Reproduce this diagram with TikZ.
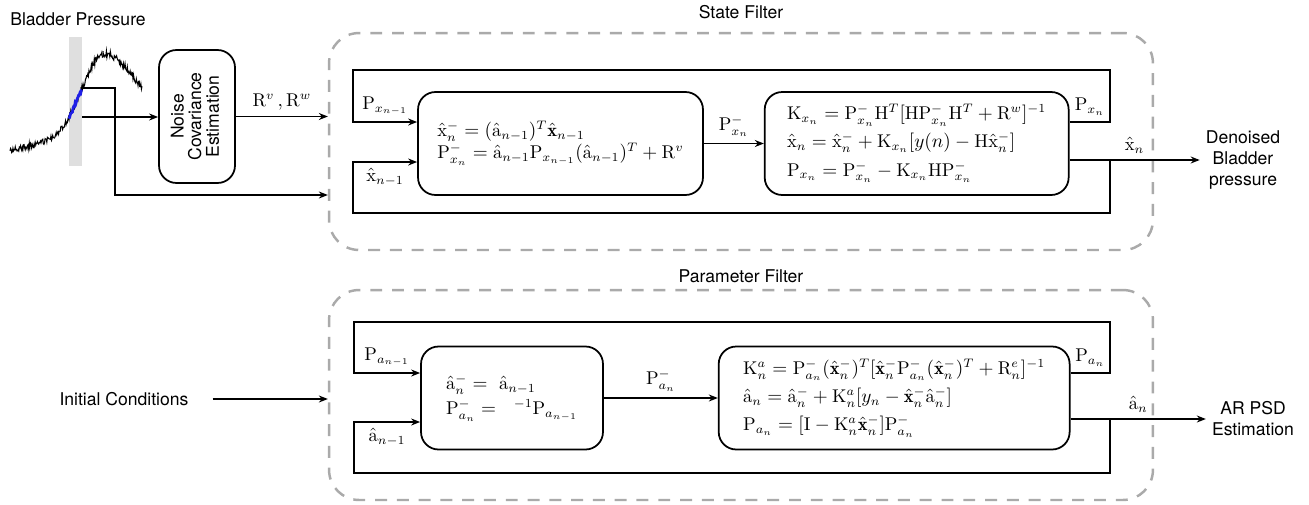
\documentclass[tikz,border=0pt]{standalone}
\usepackage{amsmath,amssymb}
\usepackage{fontspec}
\setsansfont{TeX Gyre Heros}
\usetikzlibrary{arrows.meta,positioning}
\definecolor{dashgray}{RGB}{170,170,170}
\definecolor{sigblue}{RGB}{30,30,230}
\newcommand{\xh}{\hat{\mathrm{x}}}
\newcommand{\ah}{\hat{\mathrm{a}}}
\newcommand{\xb}{\hat{\mathbf{x}}}
\newcommand{\rP}{\mathrm{P}}
\newcommand{\rK}{\mathrm{K}}
\newcommand{\rH}{\mathrm{H}}
\newcommand{\rR}{\mathrm{R}}
\begin{document}
\begin{tikzpicture}[x=0.02cm, y=-0.02cm,
  box/.style={draw, line width=1pt, rounded corners=3.5mm, align=left, inner sep=4pt,
              font=\fontsize{10.5}{16}\selectfont, minimum height=20.6mm},
  filter/.style={draw=dashgray, line width=1.4pt, dash pattern=on 6.8pt off 5.6pt,
                 rounded corners=6mm, minimum width=16.48cm},
  arr/.style={-{Stealth[length=1.8mm, width=1.4mm]}, line width=0.8pt},
  lbl/.style={font=\sffamily\fontsize{10}{12}\selectfont, align=center},
  eq/.style={font=\fontsize{10.5}{12}\selectfont}]
\useasboundingbox (0,0) rectangle (1309,504);

% filter frames
\node[filter, minimum height=4.34cm] (sf) at (741,141.5) {};
\node[filter, minimum height=4.2cm] (pf) at (741,395) {};
\node[lbl, above=1.4mm of sf] (sftitle) {State Filter};
\node[lbl, above=0mm of pf] (pftitle) {Parameter Filter};

% bladder pressure trace
\node[lbl] (bp) at (78,19) {Bladder Pressure};
\fill[gray!25] (69,37) rectangle (82,166);
\pgfmathsetseed{7}
\draw[line width=0.6pt] plot[domain=10:103, samples=160]
  (\x, {150 - 0.2*(\x-10) - 77*exp(-((\x-103)/30)^2) + 3*rand});
\draw[line width=0.6pt] plot[domain=103:142, samples=70]
  (\x, {150 - 0.2*(\x-10) - 77*exp(-((\x-103)/44.5)^2) + 3.5*rand});
\draw[sigblue, line width=1.6pt] plot[domain=69:82, samples=20]
  (\x, {150 - 0.2*(\x-10) - 77*exp(-((\x-103)/30)^2) + 2*rand});
\coordinate (tap) at (82,88);
\coordinate (win) at (82,117);
\coordinate (bend) at (115,195);
\fill (tap) circle (1.8);

\node[draw, line width=1pt, rounded corners=3.5mm, minimum width=1.52cm, minimum height=2.66cm,
      font=\sffamily\fontsize{10}{12}\selectfont] (noise) at (197,116.5)
  {\rotatebox{90}{\begin{tabular}{@{}c@{}}Noise\\[-2pt] Covariance\\[-2pt] Estimation\end{tabular}}};

% state filter blocks
\node[box, minimum width=5.7cm, font=\fontsize{10.5}{12.5}\selectfont] (pred) at (560.5,143.5)
  {$\xh^{-}_{n} = (\ah_{n-1})^{T}\xb_{n-1}$\\
   $\rP^{-}_{x_n} = \ah_{n-1}\rP_{x_{n-1}}(\ah_{n-1})^{T} + \rR^{v}$};
\node[box, minimum width=6.08cm, right=12mm of pred] (upd)
  {$\rK_{x_n} = \rP^{-}_{x_n}\rH^{T}[\rH\rP^{-}_{x_n}\rH^{T} + \rR^{w}]^{-1}$\\
   $\xh_n = \xh^{-}_n + \rK_{x_n}[y(n) - \rH\xh^{-}_n]$\\
   $\rP_{x_n} = \rP^{-}_{x_n} - \rK_{x_n}\rH\rP^{-}_{x_n}$};

% parameter filter blocks
\node[box, minimum width=3.64cm, font=\fontsize{10.5}{14.5}\selectfont] (apred) at (512,398)
  {$\ah^{-}_n =\ \ah_{n-1}$\\
   $\rP^{-}_{a_n} =\ \ {}^{-1}\rP_{a_{n-1}}$};
\node[box, minimum width=7.02cm, right=22.8mm of apred] (aupd)
  {$\rK^{a}_{n} = \rP^{-}_{a_n}(\xb^{-}_n)^{T}[\xb^{-}_n\rP^{-}_{a_n}(\xb^{-}_n)^{T} + \rR^{e}_{n}]^{-1}$\\
   $\ah_n = \ah^{-}_n + \rK^{a}_{n}[y_n - \xb^{-}_n\ah^{-}_n]$\\
   $\rP_{a_n} = [\mathrm{I} - \rK^{a}_{n}\xb^{-}_n]\rP^{-}_{a_n}$};

% outputs and inputs
\node[lbl] (den) at (1243,160) {Denoised\\ Bladder\\ pressure};
\node[lbl] (psd) at (1253,419) {AR PSD\\ Estimation};
\node[lbl] (ic) at (124,399) {Initial Conditions};

% loop corners
\coordinate (sfTR) at (1110,70);
\coordinate (sfBR) at (1110,213);
\coordinate (pxin) at (353,122);
\coordinate (xin) at (353,162);
\coordinate (pfTR) at (1110,322);
\coordinate (pfBR) at (1110,473);
\coordinate (pain) at (354,373);
\coordinate (ain) at (354,422);

% signal side
\draw[arr] (win) -- (noise.west |- win);
\draw[arr] (noise.east) -- node[above, eq] {$\rR^{v}\,,\rR^{w}$} (noise.east -| sf.west);
\draw[arr] (tap) -| (bend) -- (bend -| sf.west);
\draw[arr] ([xshift=3.6mm]ic.east) -- (ic.east -| pf.west);

% state filter wiring
\draw[arr] (pred.east) -- node[above, eq] {$\rP^{-}_{x_n}$} (upd.west);
\draw[arr] (upd.east |- pxin) -- node[above, eq] {$\rP_{x_n}$} (sfTR |- pxin) -- (sfTR) -| (pxin)
  -- node[above, eq] {$\rP_{x_{n-1}}$} (pred.west |- pxin);
\draw[arr] (upd.east |- den) -- node[above, eq] {$\xh_n$} (den.west);
\draw[arr] (sfBR |- den) -- (sfBR) -| (xin) -- node[below, eq] {$\xh_{n-1}$} (pred.west |- xin);

% parameter filter wiring
\draw[arr] (apred.east) -- node[above, eq] {$\rP^{-}_{a_n}$} (aupd.west);
\draw[arr] (aupd.east |- pain) -- node[above, eq] {$\rP_{a_n}$} (pfTR |- pain) -- (pfTR) -| (pain)
  -- node[above, eq] {$\rP_{a_{n-1}}$} (apred.west |- pain);
\draw[arr] (aupd.east |- psd) -- node[above, eq] {$\ah_n$} (psd.west);
\draw[arr] (pfBR |- psd) -- (pfBR) -| (ain) -- node[below, eq] {$\ah_{n-1}$} (apred.west |- ain);
\end{tikzpicture}
\end{document}
